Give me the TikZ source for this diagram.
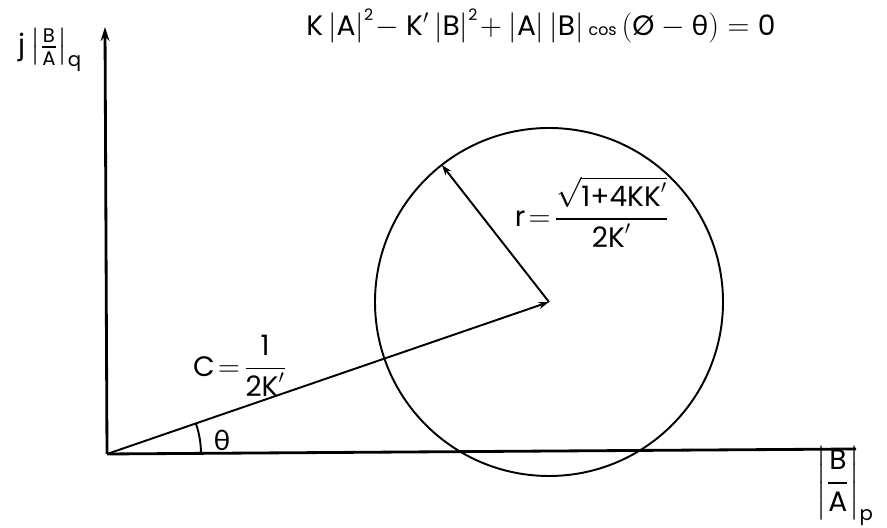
\documentclass[tikz,border=0pt]{standalone}
\usepackage{amsmath}
\usepackage{fontspec}
\setmainfont{Poppins}
\newfontfamily\greekfont{Lato}
\usepackage{tikz}
\usetikzlibrary{arrows.meta}

\newcommand{\tx}[1]{\text{#1}}
\newcommand{\thet}{\text{\greekfont θ}}

\begin{document}
\begin{tikzpicture}[x=0.2mm, y=0.2mm,
  every node/.style={font=\fontsize{16}{19}\selectfont},
  axis/.style={line width=1.6pt},
  vec/.style={line width=1.1pt, -{Stealth[length=6pt,width=4pt]}}]
  \useasboundingbox (0,0) rectangle (887,528);

  % Axes
  \coordinate (O) at (107,74);
  \coordinate (qend) at (105,501);
  \coordinate (pend) at (856,79);
  \draw[axis, -{Stealth[length=8pt,width=5pt]}] (O) -- (qend);
  \draw[axis] (O) -- (pend);

  % Circle
  \coordinate (C) at (549,226);
  \draw[line width=1.1pt] (C) circle (174);
  \path (C) ++(128:174) coordinate (R);

  % c and r
  \draw[vec] (O) -- (C);
  \draw[vec] (C) -- (R);
  \draw[line width=1.1pt] ([shift={(94,0)}]O) arc (0:19:94);

  % Labels
  \node (eq) at (541,502) {$\tx{K}\left|\tx{A}\right|^{\tx{\small 2}}\!-\tx{K}'\left|\tx{B}\right|^{\tx{\small 2}}\!+\left|\tx{A}\right|\left|\tx{B}\right|\tx{\small cos}\,(\tx{Ø}-\thet)=\tx{0}$};
  \node (qlab) at (50,478) {$\tx{j}\left|\frac{\tx{B}}{\tx{A}}\right|_{\tx{q}}$};
  \node (plab) at (845,42) {$\left|\dfrac{\tx{B}}{\tx{A}}\right|_{\tx{p}}$};
  \node (rlab) at (592,316) {$\tx{r}\!=\!\dfrac{\sqrt{\tx{1+4KK}'}}{\tx{2K}'}$};
  \node (clab) at (240,162) {$\tx{C}\!=\!\dfrac{\tx{1}}{\tx{2K}'}$};
  \node (thlab) at (222,88) {\greekfont θ};
\end{tikzpicture}
\end{document}
